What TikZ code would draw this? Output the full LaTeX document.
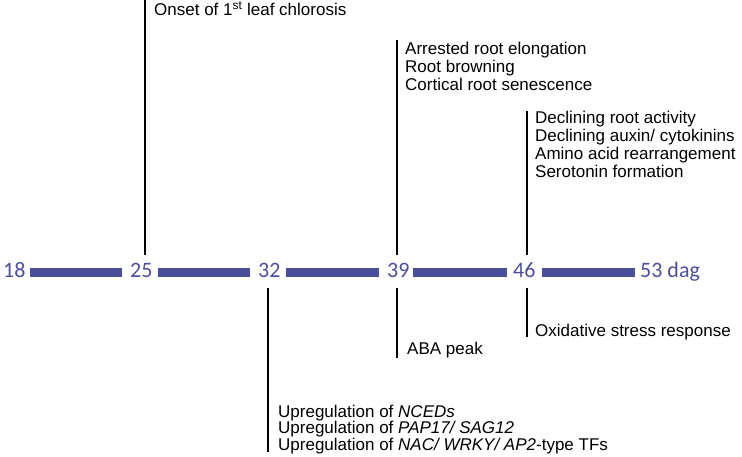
\documentclass[tikz,border=0pt]{standalone}
\usepackage{fontspec}
\setmainfont{Liberation Sans}
\newfontfamily\numfont{Carlito}
\definecolor{tlblue}{RGB}{75,79,155}
\begin{document}
\begin{tikzpicture}[x=1pt,y=-1pt,
  lbl/.style={anchor=base west,inner sep=0pt,font=\fontsize{17}{18}\selectfont},
  num/.style={anchor=base west,inner sep=0pt,text=tlblue,font=\numfont\fontsize{22}{24}\selectfont},
  bar/.style={fill=tlblue,draw=none},
  tick/.style={draw=black,line width=1.3pt}]
\useasboundingbox (0,0) rectangle (742,457);
% numbers
\node[num] (n18) at (3,277) {18};
\node[num] (n25) at (130,277) {25};
\node[num] (n32) at (258,277) {32};
\node[num] (n39) at (387,277) {39};
\node[num] (n46) at (513,277) {46};
\node[num] (n53) at (640,277) {53 dag};
% bars
\fill[bar] (30,268) rectangle (122,277);
\fill[bar] (158,268) rectangle (250,277);
\fill[bar] (286,268) rectangle (379,277);
\fill[bar] (413,268) rectangle (507,277);
\fill[bar] (542,268) rectangle (635,277);
% ticks
\coordinate (t25a) at (145,0);   \coordinate (t25b) at (145,255);
\coordinate (t39a) at (397,40);  \coordinate (t39b) at (397,255);
\coordinate (t46a) at (527,111); \coordinate (t46b) at (527,255);
\coordinate (b32a) at (268,288); \coordinate (b32b) at (268,452);
\coordinate (b39a) at (397,288); \coordinate (b39b) at (397,358);
\coordinate (b46a) at (527,288); \coordinate (b46b) at (527,337);
\draw[tick] (t25a) -- (t25b);
\draw[tick] (t39a) -- (t39b);
\draw[tick] (t46a) -- (t46b);
\draw[tick] (b32a) -- (b32b);
\draw[tick] (b39a) -- (b39b);
\draw[tick] (b46a) -- (b46b);
% labels
\node[lbl] (onset) at (154,16) {Onset of 1\textsuperscript{st} leaf chlorosis};
\node[lbl] (arr) at (405,55) {Arrested root elongation};
\node[lbl] (brown) at (405,73) {Root browning};
\node[lbl] (cort) at (405,91) {Cortical root senescence};
\node[lbl] (dra) at (535,124) {Declining root activity};
\node[lbl] (dac) at (535,142) {Declining auxin/ cytokinins};
\node[lbl] (aar) at (535,160) {Amino acid rearrangement};
\node[lbl] (ser) at (535,178) {Serotonin formation};
\node[lbl] (aba) at (407,354.5) {ABA peak};
\node[lbl] (ox) at (535,336) {Oxidative stress response};
\node[lbl] (up1) at (278,417) {Upregulation of \textit{NCEDs}};
\node[lbl] (up2) at (278,433.5) {Upregulation of \textit{PAP17/ SAG12}};
\node[lbl] (up3) at (278,450) {Upregulation of \textit{NAC/ WRKY/ AP2}-type TFs};
\end{tikzpicture}
\end{document}
